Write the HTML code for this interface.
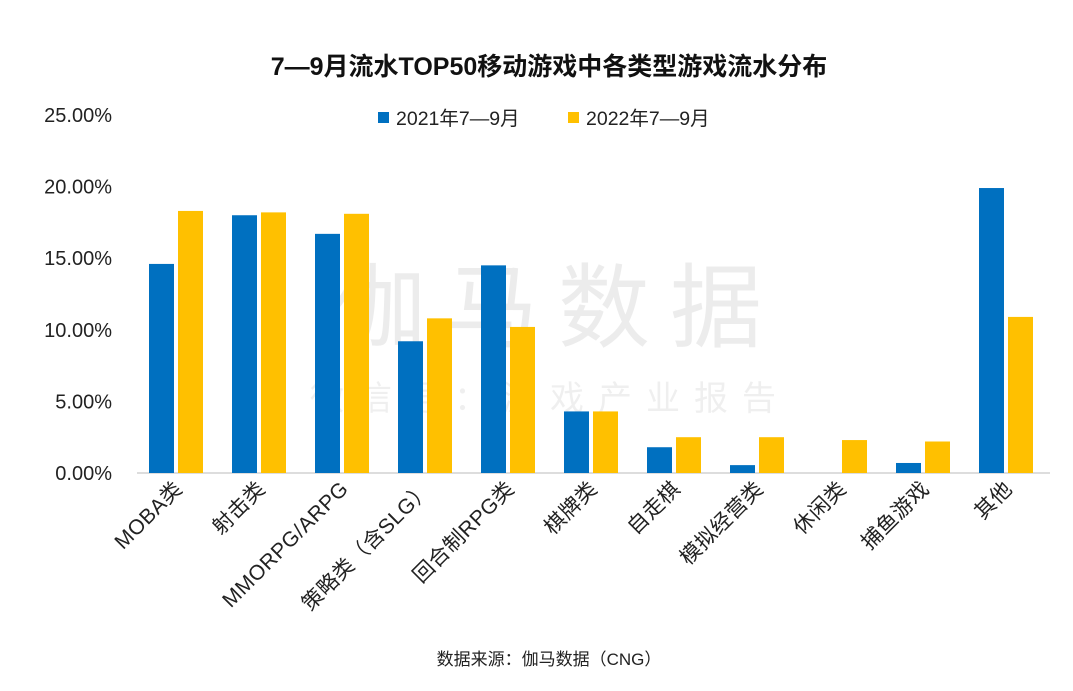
<!DOCTYPE html>
<html><head><meta charset="utf-8"><style>
body{margin:0;background:#fff;width:1073px;height:686px;overflow:hidden;font-family:"Liberation Sans","Noto Sans CJK SC",sans-serif}
</style></head><body>
<svg id="chart" width="1073" height="686" font-family="Liberation Sans, Noto Sans CJK SC, sans-serif">
<text x="549" y="75" text-anchor="middle" font-size="25" font-weight="bold" fill="#111">7—9月流水TOP50移动游戏中各类型游戏流水分布</text>
<text x="558" y="340" text-anchor="middle" font-size="92" fill="#000" opacity="0.07" letter-spacing="20">伽马数据</text>
<text x="550" y="410" text-anchor="middle" font-size="34" fill="#000" opacity="0.06" letter-spacing="14">微信号：游戏产业报告</text>
<g>
<rect x="378" y="112" width="11" height="11" fill="#0070C0"/>
<text x="396" y="125" font-size="19.5" fill="#222">2021年7—9月</text>
<rect x="568" y="112" width="11" height="11" fill="#FFC000"/>
<text x="586" y="125" font-size="19.5" fill="#222">2022年7—9月</text>
</g>
<g id="axes"></g><g id="bars"></g>
<text x="549" y="665" text-anchor="middle" font-size="17" fill="#222">数据来源：伽马数据（CNG）</text>
</svg>
<script>
const categories=["MOBA类","射击类","MMORPG/ARPG","策略类（含SLG）","回合制RPG类","棋牌类","自走棋","模拟经营类","休闲类","捕鱼游戏","其他"];
const series2021=[14.6,18.0,16.7,9.2,14.5,4.3,1.8,0.55,0,0.7,19.9];
const series2022=[18.3,18.2,18.1,10.8,10.2,4.3,2.5,2.5,2.3,2.2,10.9];
const yTicks=[0,5,10,15,20,25];
const yTickLabels=["0.00%","5.00%","10.00%","15.00%","20.00%","25.00%"];
const NS="http://www.w3.org/2000/svg";
const x0=137,x1=1050,y0=473,pxPer=(473-115)/25;
const band=(x1-x0)/categories.length;
const y=v=>y0-v*pxPer;
const cx=i=>x0+band*(i+0.5);
const axes=document.getElementById('axes'),bars=document.getElementById('bars');
function mk(tag,attrs,parent){const e=document.createElementNS(NS,tag);for(const k in attrs)e.setAttribute(k,attrs[k]);parent.appendChild(e);return e;}
yTicks.forEach((t,i)=>{
 const tx=mk('text',{x:112,y:y(t)+7,'text-anchor':'end','font-size':20,fill:'#222'},axes);
 
 
 tx.textContent=yTickLabels[i];
});
const ax=mk('line',{x1:x0,x2:x1,y1:y0,y2:y0,stroke:'#bbb','stroke-width':1},axes);


categories.forEach((c,i)=>{
 const bw=25;
 const b1=mk('rect',{x:cx(i)-29.5,y:y(series2021[i]),width:bw,height:y0-y(series2021[i]),fill:'#0070C0'},bars);
 
 
 const b2=mk('rect',{x:cx(i)-0.5,y:y(series2022[i]),width:bw,height:y0-y(series2022[i]),fill:'#FFC000'},bars);
 
 
 const lx=cx(i)+5,ly=490;
 const t=mk('text',{x:lx,y:ly,'text-anchor':'end','font-size':21,fill:'#222','letter-spacing':'0.5',transform:`rotate(-45 ${lx} ${ly})`},axes);
 
 
 t.textContent=c;
});
</script>
</body></html>
